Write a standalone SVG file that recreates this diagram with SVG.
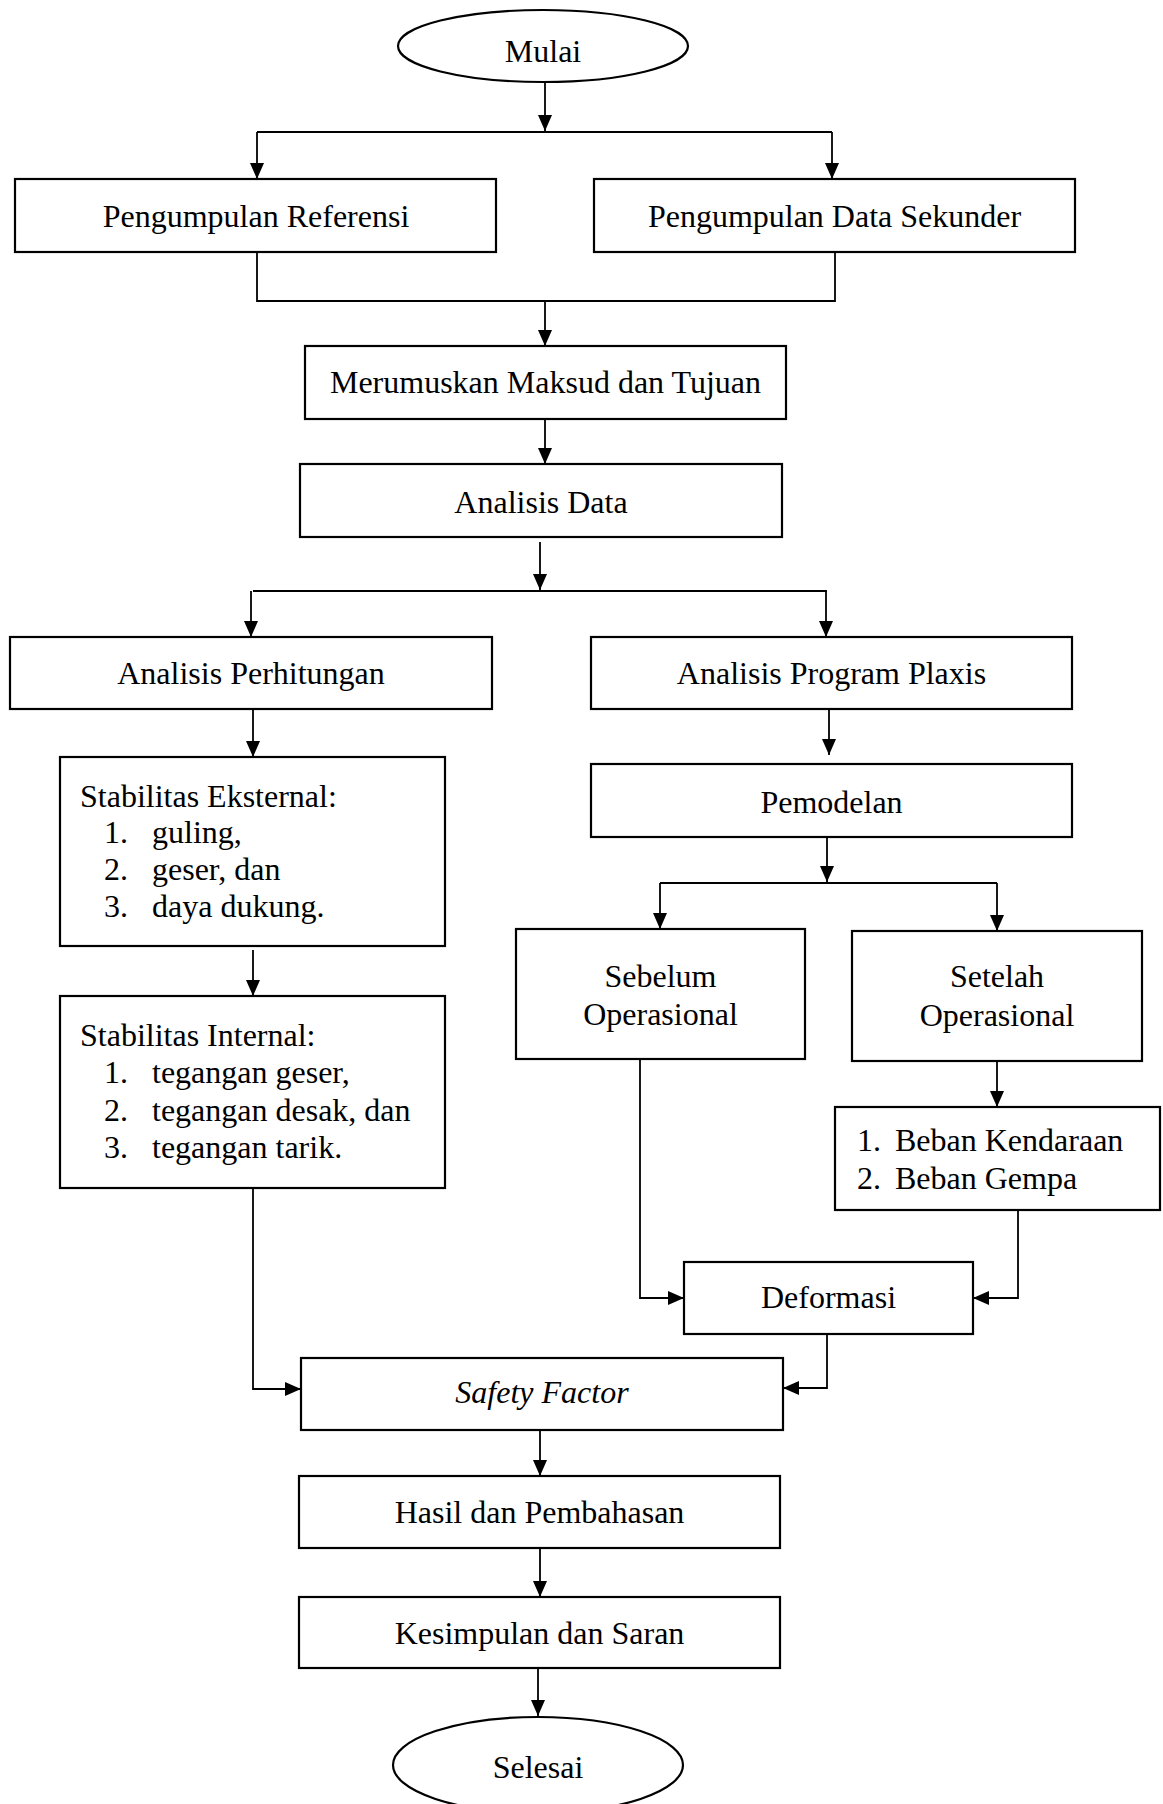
<svg xmlns="http://www.w3.org/2000/svg" width="1163" height="1804" viewBox="0 0 1163 1804">
<style>
.box{fill:#fff;stroke:#000;stroke-width:2.2}
.t{font-family:"Liberation Serif","Times New Roman",serif;font-size:32px;fill:#000}
.c{text-anchor:middle}
.ln{fill:none;stroke:#000;stroke-width:1.8}
.ar{fill:none;stroke:#000;stroke-width:1.8;marker-end:url(#ah)}
</style>
<defs>
<marker id="ah" markerUnits="userSpaceOnUse" markerWidth="16" markerHeight="14" refX="16" refY="7" orient="auto">
<path d="M0,0 L16,7 L0,14 z" fill="#000"/>
</marker>
</defs>
<rect width="1163" height="1804" fill="#fff"/>
<g id="connectors">
<path class="ar" d="M545,82 V131"/>
<path class="ln" d="M257,132 H832" stroke-width="2.2"/>
<path class="ar" d="M257,132 V179"/>
<path class="ar" d="M832,132 V179"/>
<path class="ln" d="M257,252 V301 H835 V252"/>
<path class="ar" d="M545,301 V346"/>
<path class="ar" d="M545,419 V464"/>
<path class="ar" d="M540,542 V590"/>
<path class="ln" d="M253,591 H827" stroke-width="2.2"/>
<path class="ar" d="M251,591 V637"/>
<path class="ar" d="M826,591 V637"/>
<path class="ar" d="M253,709 V757"/>
<path class="ar" d="M829,709 V755"/>
<path class="ar" d="M827,837 V882"/>
<path class="ln" d="M660,883 H997" stroke-width="2.2"/>
<path class="ar" d="M660,883 V929"/>
<path class="ar" d="M997,883 V931"/>
<path class="ar" d="M253,950 V996"/>
<path class="ar" d="M997,1061 V1107"/>
<path class="ar" d="M640,1059 V1298 H684"/>
<path class="ar" d="M1018,1210 V1298 H973"/>
<path class="ar" d="M827,1334 V1388 H783"/>
<path class="ar" d="M253,1188 V1389 H301"/>
<path class="ar" d="M540,1430 V1476"/>
<path class="ar" d="M540,1548 V1597"/>
<path class="ar" d="M538,1668 V1716"/>
</g>
<g id="mulai">
<ellipse class="box" cx="543" cy="46" rx="145" ry="36"/>
<text class="t c" x="543" y="62">Mulai</text>
</g>
<g id="pengumpulan-referensi">
<rect class="box" x="15" y="179" width="481" height="73"/>
<text class="t c" x="256" y="227">Pengumpulan Referensi</text>
</g>
<g id="pengumpulan-data-sekunder">
<rect class="box" x="594" y="179" width="481" height="73"/>
<text class="t c" x="834.5" y="227">Pengumpulan Data Sekunder</text>
</g>
<g id="merumuskan">
<rect class="box" x="305" y="346" width="481" height="73"/>
<text class="t c" x="545.5" y="393">Merumuskan Maksud dan Tujuan</text>
</g>
<g id="analisis-data">
<rect class="box" x="300" y="464" width="482" height="73"/>
<text class="t c" x="541" y="513">Analisis Data</text>
</g>
<g id="analisis-perhitungan">
<rect class="box" x="10" y="637" width="482" height="72"/>
<text class="t c" x="251" y="684">Analisis Perhitungan</text>
</g>
<g id="analisis-plaxis">
<rect class="box" x="591" y="637" width="481" height="72"/>
<text class="t c" x="831.5" y="684">Analisis Program Plaxis</text>
</g>
<g id="stabilitas-eksternal">
<rect class="box" x="60" y="757" width="385" height="189"/>
<text class="t" x="80" y="807">Stabilitas Eksternal:</text>
<text class="t" x="104" y="843">1.</text><text class="t" x="152" y="843">guling,</text>
<text class="t" x="104" y="880">2.</text><text class="t" x="152" y="880">geser, dan</text>
<text class="t" x="104" y="917">3.</text><text class="t" x="152" y="917">daya dukung.</text>
</g>
<g id="pemodelan">
<rect class="box" x="591" y="764" width="481" height="73"/>
<text class="t c" x="831.5" y="813">Pemodelan</text>
</g>
<g id="sebelum">
<rect class="box" x="516" y="929" width="289" height="130"/>
<text class="t c" x="660.5" y="987">Sebelum</text>
<text class="t c" x="660.5" y="1025">Operasional</text>
</g>
<g id="setelah">
<rect class="box" x="852" y="931" width="290" height="130"/>
<text class="t c" x="997" y="987">Setelah</text>
<text class="t c" x="997" y="1026">Operasional</text>
</g>
<g id="stabilitas-internal">
<rect class="box" x="60" y="996" width="385" height="192"/>
<text class="t" x="80" y="1046">Stabilitas Internal:</text>
<text class="t" x="104" y="1083">1.</text><text class="t" x="152" y="1083">tegangan geser,</text>
<text class="t" x="104" y="1121">2.</text><text class="t" x="152" y="1121">tegangan desak, dan</text>
<text class="t" x="104" y="1158">3.</text><text class="t" x="152" y="1158">tegangan tarik.</text>
</g>
<g id="beban">
<rect class="box" x="835" y="1107" width="325" height="103"/>
<text class="t" x="857" y="1151">1.</text><text class="t" x="895" y="1151">Beban Kendaraan</text>
<text class="t" x="857" y="1189">2.</text><text class="t" x="895" y="1189">Beban Gempa</text>
</g>
<g id="deformasi">
<rect class="box" x="684" y="1262" width="289" height="72"/>
<text class="t c" x="828.5" y="1308">Deformasi</text>
</g>
<g id="safety-factor">
<rect class="box" x="301" y="1358" width="482" height="72"/>
<text class="t c" x="542" y="1403" font-style="italic">Safety Factor</text>
</g>
<g id="hasil">
<rect class="box" x="299" y="1476" width="481" height="72"/>
<text class="t c" x="539.5" y="1523">Hasil dan Pembahasan</text>
</g>
<g id="kesimpulan">
<rect class="box" x="299" y="1597" width="481" height="71"/>
<text class="t c" x="539.5" y="1644">Kesimpulan dan Saran</text>
</g>
<g id="selesai">
<ellipse class="box" cx="538" cy="1765" rx="145" ry="48"/>
<text class="t c" x="538" y="1778">Selesai</text>
</g>
</svg>
